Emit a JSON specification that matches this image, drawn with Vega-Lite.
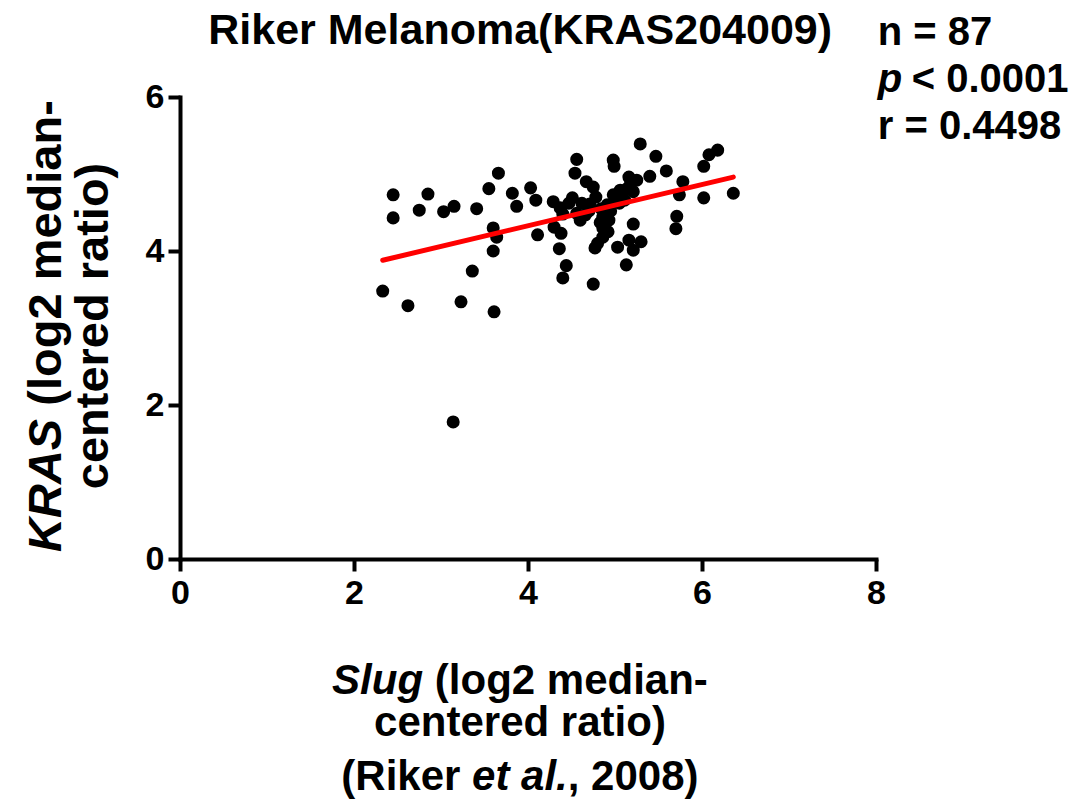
{
  "$schema": "https://vega.github.io/schema/vega-lite/v6.json",
  "width": 696,
  "height": 462,
  "autosize": "none",
  "padding": {"left": 180, "top": 97, "right": 210, "bottom": 250},
  "background": "white",
  "config": {"font": "Liberation Sans", "view": {"stroke": null}, "text": {"clip": false, "fontWeight": "bold", "color": "black", "baseline": "alphabetic"}},
  "datasets": {
    "pts": [
      {"slug": 2.45, "kras": 4.73}, {"slug": 2.45, "kras": 4.43}, {"slug": 2.85, "kras": 4.74}, {"slug": 2.75, "kras": 4.53},
      {"slug": 3.03, "kras": 4.51}, {"slug": 3.15, "kras": 4.58}, {"slug": 3.41, "kras": 4.55}, {"slug": 3.66, "kras": 5.01},
      {"slug": 3.55, "kras": 4.81}, {"slug": 3.82, "kras": 4.75}, {"slug": 3.87, "kras": 4.58}, {"slug": 4.03, "kras": 4.82},
      {"slug": 4.09, "kras": 4.66}, {"slug": 3.60, "kras": 4.30}, {"slug": 3.64, "kras": 4.18}, {"slug": 3.60, "kras": 4.00},
      {"slug": 3.36, "kras": 3.74}, {"slug": 2.33, "kras": 3.48}, {"slug": 2.62, "kras": 3.29}, {"slug": 3.23, "kras": 3.34},
      {"slug": 3.61, "kras": 3.21}, {"slug": 4.11, "kras": 4.21}, {"slug": 4.30, "kras": 4.31}, {"slug": 4.38, "kras": 4.23},
      {"slug": 4.36, "kras": 4.03}, {"slug": 4.44, "kras": 3.81}, {"slug": 4.40, "kras": 3.65}, {"slug": 4.75, "kras": 3.57},
      {"slug": 4.56, "kras": 5.19}, {"slug": 4.54, "kras": 5.01}, {"slug": 4.67, "kras": 4.90}, {"slug": 4.75, "kras": 4.83},
      {"slug": 4.29, "kras": 4.64}, {"slug": 4.37, "kras": 4.56}, {"slug": 4.51, "kras": 4.69}, {"slug": 4.56, "kras": 4.49},
      {"slug": 4.71, "kras": 4.61}, {"slug": 4.84, "kras": 4.55}, {"slug": 4.86, "kras": 4.30}, {"slug": 4.86, "kras": 4.18},
      {"slug": 4.77, "kras": 4.04}, {"slug": 4.98, "kras": 5.18}, {"slug": 4.99, "kras": 5.10}, {"slug": 5.03, "kras": 4.05},
      {"slug": 4.98, "kras": 4.73}, {"slug": 5.29, "kras": 5.39}, {"slug": 5.47, "kras": 5.23}, {"slug": 5.59, "kras": 5.04},
      {"slug": 5.40, "kras": 4.97}, {"slug": 5.16, "kras": 4.96}, {"slug": 5.25, "kras": 4.92}, {"slug": 5.21, "kras": 4.77},
      {"slug": 5.06, "kras": 4.79}, {"slug": 5.01, "kras": 4.69}, {"slug": 5.11, "kras": 4.66}, {"slug": 4.66, "kras": 4.47},
      {"slug": 5.21, "kras": 4.35}, {"slug": 5.16, "kras": 4.14}, {"slug": 5.30, "kras": 4.12}, {"slug": 5.21, "kras": 4.01},
      {"slug": 5.13, "kras": 3.82}, {"slug": 5.78, "kras": 4.90}, {"slug": 5.74, "kras": 4.73}, {"slug": 5.71, "kras": 4.45},
      {"slug": 5.70, "kras": 4.29}, {"slug": 6.02, "kras": 5.10}, {"slug": 6.08, "kras": 5.25}, {"slug": 6.18, "kras": 5.31},
      {"slug": 6.02, "kras": 4.69}, {"slug": 6.36, "kras": 4.75}, {"slug": 3.14, "kras": 1.78},
      {"slug": 4.91, "kras": 4.60}, {"slug": 5.14, "kras": 4.81}, {"slug": 4.86, "kras": 4.44}, {"slug": 4.83, "kras": 4.37},
      {"slug": 4.62, "kras": 4.62}, {"slug": 4.78, "kras": 4.70}, {"slug": 4.47, "kras": 4.62}, {"slug": 5.05, "kras": 4.62},
      {"slug": 4.95, "kras": 4.52}, {"slug": 4.70, "kras": 4.52}, {"slug": 4.92, "kras": 4.25}, {"slug": 4.40, "kras": 4.48},
      {"slug": 4.80, "kras": 4.10}, {"slug": 5.18, "kras": 4.88}, {"slug": 4.60, "kras": 4.40}, {"slug": 4.93, "kras": 4.40}
    ],
    "fit": [
      {"slug": 2.33, "kras": 3.88},
      {"slug": 6.36, "kras": 4.96}
    ],
    "labels": [
      {"label": "Riker Melanoma(KRAS204009)", "row": "title"},
      {"label": "n = 87", "row": "n"},
      {"label": "p", "row": "p"},
      {"label": "< 0.0001", "row": "pv"},
      {"label": "r = 0.4498", "row": "r"},
      {"label": "Slug", "row": "x1a"},
      {"label": "(log2 median-", "row": "x1b"},
      {"label": "centered ratio)", "row": "x2"},
      {"label": "(Riker", "row": "x3a"},
      {"label": "et al.", "row": "x3b"},
      {"label": ", 2008)", "row": "x3c"},
      {"label": "KRAS", "row": "y1a"},
      {"label": "(log2 median-", "row": "y1b"},
      {"label": "centered ratio)", "row": "y2"}
    ]
  },
  "layer": [
    {
      "data": {"name": "pts"},
      "mark": {"type": "circle", "size": 170, "color": "black", "opacity": 1},
      "encoding": {
        "x": {
          "field": "slug", "type": "quantitative",
          "scale": {"domain": [0, 8], "nice": false, "zero": false},
          "axis": {
            "title": null,
            "values": [0, 2, 4, 6, 8], "format": "d", "grid": false,
            "domainColor": "black", "domainWidth": 4, "domainCap": "square",
            "tickColor": "black", "tickWidth": 4, "tickSize": 12,
            "labelFontSize": 34, "labelFontWeight": "bold", "labelColor": "black", "labelPadding": 5, "labelFlush": false
          }
        },
        "y": {
          "field": "kras", "type": "quantitative",
          "scale": {"domain": [0, 6], "nice": false, "zero": false},
          "axis": {
            "title": null,
            "values": [0, 2, 4, 6], "format": "d", "grid": false,
            "domainColor": "black", "domainWidth": 4, "domainCap": "square",
            "tickColor": "black", "tickWidth": 4, "tickSize": 12,
            "labelFontSize": 34, "labelFontWeight": "bold", "labelColor": "black", "labelPadding": 4, "labelFlush": false
          }
        }
      }
    },
    {
      "data": {"name": "fit"},
      "mark": {"type": "line", "color": "#ff0000", "strokeWidth": 5, "strokeCap": "round"},
      "encoding": {
        "x": {"field": "slug", "type": "quantitative"},
        "y": {"field": "kras", "type": "quantitative"}
      }
    },
    {
      "data": {"name": "labels"}, "transform": [{"filter": "datum.row == 'title'"}],
      "mark": {"type": "text", "align": "center", "fontSize": 43},
      "encoding": {"x": {"datum": 3.91, "type": "quantitative"}, "y": {"datum": 6.69, "type": "quantitative"}, "text": {"field": "label", "type": "nominal"}}
    },
    {
      "data": {"name": "labels"}, "transform": [{"filter": "datum.row == 'n'"}],
      "mark": {"type": "text", "align": "left", "fontSize": 40},
      "encoding": {"x": {"datum": 8.02, "type": "quantitative"}, "y": {"datum": 6.67, "type": "quantitative"}, "text": {"field": "label", "type": "nominal"}}
    },
    {
      "data": {"name": "labels"}, "transform": [{"filter": "datum.row == 'p'"}],
      "mark": {"type": "text", "align": "left", "fontSize": 40, "fontStyle": "italic"},
      "encoding": {"x": {"datum": 8.02, "type": "quantitative"}, "y": {"datum": 6.07, "type": "quantitative"}, "text": {"field": "label", "type": "nominal"}}
    },
    {
      "data": {"name": "labels"}, "transform": [{"filter": "datum.row == 'pv'"}],
      "mark": {"type": "text", "align": "left", "fontSize": 40, "dx": 34},
      "encoding": {"x": {"datum": 8.02, "type": "quantitative"}, "y": {"datum": 6.07, "type": "quantitative"}, "text": {"field": "label", "type": "nominal"}}
    },
    {
      "data": {"name": "labels"}, "transform": [{"filter": "datum.row == 'r'"}],
      "mark": {"type": "text", "align": "left", "fontSize": 40},
      "encoding": {"x": {"datum": 8.02, "type": "quantitative"}, "y": {"datum": 5.45, "type": "quantitative"}, "text": {"field": "label", "type": "nominal"}}
    },
    {
      "data": {"name": "labels"}, "transform": [{"filter": "datum.row == 'x1a'"}],
      "mark": {"type": "text", "align": "right", "fontSize": 42, "fontStyle": "italic"},
      "encoding": {"x": {"datum": 2.794, "type": "quantitative"}, "y": {"datum": -1.753, "type": "quantitative"}, "text": {"field": "label", "type": "nominal"}}
    },
    {
      "data": {"name": "labels"}, "transform": [{"filter": "datum.row == 'x1b'"}],
      "mark": {"type": "text", "align": "left", "fontSize": 42},
      "encoding": {"x": {"datum": 2.929, "type": "quantitative"}, "y": {"datum": -1.753, "type": "quantitative"}, "text": {"field": "label", "type": "nominal"}}
    },
    {
      "data": {"name": "labels"}, "transform": [{"filter": "datum.row == 'x2'"}],
      "mark": {"type": "text", "align": "center", "fontSize": 42},
      "encoding": {"x": {"datum": 3.908, "type": "quantitative"}, "y": {"datum": -2.299, "type": "quantitative"}, "text": {"field": "label", "type": "nominal"}}
    },
    {
      "data": {"name": "labels"}, "transform": [{"filter": "datum.row == 'x3a'"}],
      "mark": {"type": "text", "align": "right", "fontSize": 42},
      "encoding": {"x": {"datum": 3.223, "type": "quantitative"}, "y": {"datum": -3.0, "type": "quantitative"}, "text": {"field": "label", "type": "nominal"}}
    },
    {
      "data": {"name": "labels"}, "transform": [{"filter": "datum.row == 'x3b'"}],
      "mark": {"type": "text", "align": "left", "fontSize": 42, "fontStyle": "italic"},
      "encoding": {"x": {"datum": 3.357, "type": "quantitative"}, "y": {"datum": -3.0, "type": "quantitative"}, "text": {"field": "label", "type": "nominal"}}
    },
    {
      "data": {"name": "labels"}, "transform": [{"filter": "datum.row == 'x3c'"}],
      "mark": {"type": "text", "align": "left", "fontSize": 42},
      "encoding": {"x": {"datum": 4.457, "type": "quantitative"}, "y": {"datum": -3.0, "type": "quantitative"}, "text": {"field": "label", "type": "nominal"}}
    },
    {
      "data": {"name": "labels"}, "transform": [{"filter": "datum.row == 'y1a'"}],
      "mark": {"type": "text", "align": "right", "angle": 270, "fontSize": 47, "fontStyle": "italic"},
      "encoding": {"x": {"datum": -1.368, "type": "quantitative"}, "y": {"datum": 1.821, "type": "quantitative"}, "text": {"field": "label", "type": "nominal"}}
    },
    {
      "data": {"name": "labels"}, "transform": [{"filter": "datum.row == 'y1b'"}],
      "mark": {"type": "text", "align": "left", "angle": 270, "fontSize": 47},
      "encoding": {"x": {"datum": -1.368, "type": "quantitative"}, "y": {"datum": 1.991, "type": "quantitative"}, "text": {"field": "label", "type": "nominal"}}
    },
    {
      "data": {"name": "labels"}, "transform": [{"filter": "datum.row == 'y2'"}],
      "mark": {"type": "text", "align": "center", "angle": 270, "fontSize": 47},
      "encoding": {"x": {"datum": -0.828, "type": "quantitative"}, "y": {"datum": 3.026, "type": "quantitative"}, "text": {"field": "label", "type": "nominal"}}
    }
  ]
}
